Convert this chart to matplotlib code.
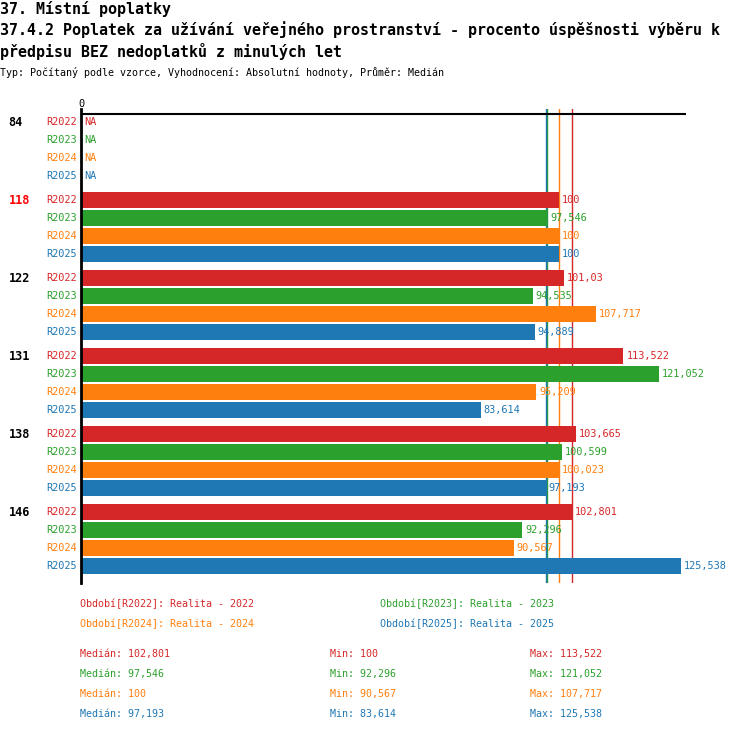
import numpy as np
import matplotlib.pyplot as plt

plt.switch_backend('Agg')
plt.rcParams['font.family'] = ['DejaVu Sans Mono', 'DejaVu Sans']

# data
groups = ['84', '118', '122', '131', '138', '146']
group_colors = ['black', '#ff0000', 'black', 'black', 'black', 'black']
series = ['R2022', 'R2023', 'R2024', 'R2025']
series_colors = ['#d62728', '#2ca02c', '#ff7f0e', '#1f77b4']
r2022 = [np.nan, 100, 101.03, 113.522, 103.665, 102.801]
r2023 = [np.nan, 97.546, 94.535, 121.052, 100.599, 92.296]
r2024 = [np.nan, 100, 107.717, 95.209, 100.023, 90.567]
r2025 = [np.nan, 100, 94.889, 83.614, 97.193, 125.538]
values = [r2022, r2023, r2024, r2025]

title1 = '37. Místní poplatky'
title2 = '37.4.2 Poplatek za užívání veřejného prostranství - procento úspěšnosti výběru k'
title3 = 'předpisu BEZ nedoplatků z minulých let'
subtitle = 'Typ: Počítaný podle vzorce, Vyhodnocení: Absolutní hodnoty, Průměr: Medián'


def fmt(v):
    s = f"{v:.3f}".rstrip('0').rstrip('.')
    return s.replace('.', ',')


W, H = 750, 732
fig = plt.figure(figsize=(W / 100, H / 100), dpi=100)


def px(x, y):
    return x / W, 1 - y / H


# axes placed in pixel terms
ax_l, ax_r, ax_t, ax_b = 81, 686, 109, 583
ax = fig.add_axes([ax_l / W, 1 - ax_b / H, (ax_r - ax_l) / W, (ax_b - ax_t) / H])

pitch = 18.0
gap = 6.0 / pitch
bar_h = 16.0 / pitch
xmax = (ax_r - ax_l) / 4.77

ax.set_xlim(0, xmax)
top = -13.0 / pitch
bottom = (len(groups) - 1) * (4 + gap) + 3 + 17.0 / pitch
ax.set_ylim(bottom, top)

for g, grp in enumerate(groups):
    base = g * (4 + gap)
    for s, name in enumerate(series):
        y = base + s
        v = values[s][g]
        c = series_colors[s]
        ax.text(-0.8, y, name, color=c, ha='right', va='center', fontsize=7.4,
                clip_on=False)
        if np.isnan(v):
            ax.text(0.6, y, 'NA', color=c, ha='left', va='center', fontsize=7.4)
        else:
            ax.barh(y, v, height=bar_h, color=c, left=0.2, zorder=2)
            ax.text(v + 0.2 + 0.6, y, fmt(v), color=c, ha='left', va='center',
                    fontsize=7.4, zorder=3)
    ax.text(-15.2, base, grp, color=group_colors[g], ha='left', va='center',
            fontsize=8.6, fontweight='bold', clip_on=False)

# median lines
for s in range(len(series)):
    med = np.nanmedian(values[s])
    ax.axvline(med + 0.2, color=series_colors[s], lw=1, zorder=1)

ax.axhline(-8.0 / pitch, color='black', lw=1.5)
for sp in ['top', 'right', 'bottom']:
    ax.spines[sp].set_visible(False)
ax.spines['left'].set_linewidth(2)
ax.set_xticks([])
ax.set_yticks([])
ax.text(0, top, '0', ha='center', va='bottom', fontsize=7.4, clip_on=False)

# titles
fig.text(*px(0, 9), title1, fontsize=10.8, fontweight='bold', va='center')
fig.text(*px(0, 30), title2, fontsize=10.8, fontweight='bold', va='center')
fig.text(*px(0, 51), title3, fontsize=10.8, fontweight='bold', va='center')
fig.text(*px(0, 73), subtitle, fontsize=7.2, va='center')

# legend
leg_x = [80, 380, 80, 380]
leg_y = [604, 604, 624, 624]
for s, name in enumerate(series):
    fig.text(*px(leg_x[s], leg_y[s]), f'Období[{name}]: Realita - {name[1:]}',
             color=series_colors[s], fontsize=7.2, va='center')

# stats
for s, name in enumerate(series):
    arr = np.array(values[s], dtype=float)
    y = 654 + 20 * s
    c = series_colors[s]
    fig.text(*px(80, y), f'Medián: {fmt(np.nanmedian(arr))}', color=c, fontsize=7.2, va='center')
    fig.text(*px(330, y), f'Min: {fmt(np.nanmin(arr))}', color=c, fontsize=7.2, va='center')
    fig.text(*px(530, y), f'Max: {fmt(np.nanmax(arr))}', color=c, fontsize=7.2, va='center')

fig.savefig('out.png', dpi=100)
